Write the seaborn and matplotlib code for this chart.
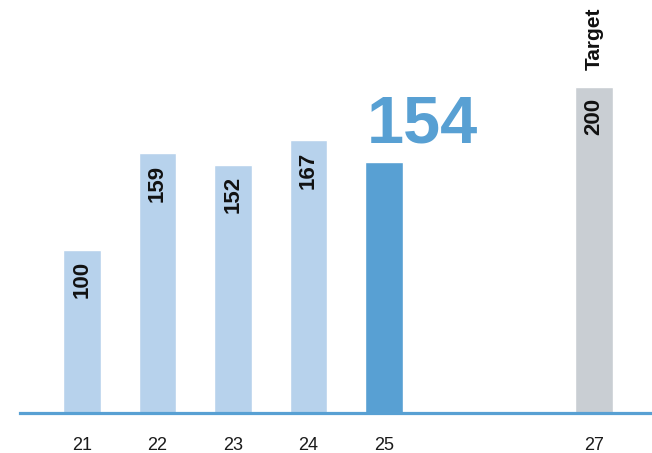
import matplotlib
matplotlib.use("Agg")
import matplotlib.pyplot as plt
import seaborn as sns
import pandas as pd

# Chart data
periods = ["21", "22", "23", "24", "25", "27"]
scores = [100, 159, 152, 167, 154, 200]
kinds = ["past", "past", "past", "past", "current", "target"]
target_label = "Target"

# Layout: slot positions along x (gap left before the target bar)
slots = [0, 1, 2, 3, 4, 6.78]
colors = {"past": "#b7d2ec", "current": "#58a0d3", "target": "#c9ced3"}
axis_blue = "#58a0d3"

sns.set_theme(style="white")
plt.rcParams["font.family"] = ["Liberation Sans Narrow", "Liberation Sans", "DejaVu Sans"]

df = pd.DataFrame({"slot": slots, "score": scores, "kind": kinds, "period": periods})

fig = plt.figure(figsize=(6.52, 4.53), dpi=100)
ax = fig.add_axes([20 / 652, 40 / 453, 632 / 652, 413 / 453])

sns.barplot(data=df, x="slot", y="score", hue="kind", palette=colors,
            native_scale=True, width=0.5, legend=False, ax=ax, saturation=1)

ax.set_xlim(-0.82, 6.78 + 0.77)
ax.set_ylim(0, 253)

for s in ["top", "right", "left"]:
    ax.spines[s].set_visible(False)
ax.spines["bottom"].set_color(axis_blue)
ax.spines["bottom"].set_linewidth(2.3)
ax.set_yticks([])
ax.set_xticks(slots)
ax.set_xticklabels(periods, fontsize=13, color="#1a1a1a")
ax.tick_params(axis="x", length=0, pad=17)
ax.set_xlabel("")
ax.set_ylabel("")

for x, v, k in zip(slots, scores, kinds):
    if k == "current":
        ax.annotate(str(v), (x - 0.23, v), xytext=(0, 4), textcoords="offset points",
                    ha="left", va="bottom", fontsize=48, fontweight="bold",
                    color=axis_blue)
    else:
        ax.annotate(str(v), (x, v), xytext=(0, -8), textcoords="offset points",
                    ha="center", va="top", rotation=90, fontsize=16,
                    fontweight="bold", color="#111111")
    if k == "target":
        ax.annotate(target_label, (x, v), xytext=(0, 12), textcoords="offset points",
                    ha="center", va="bottom", rotation=90, fontsize=15,
                    fontweight="bold", color="#111111",
                    family=["Liberation Sans", "DejaVu Sans"])

fig.savefig("out.png", dpi=100)
